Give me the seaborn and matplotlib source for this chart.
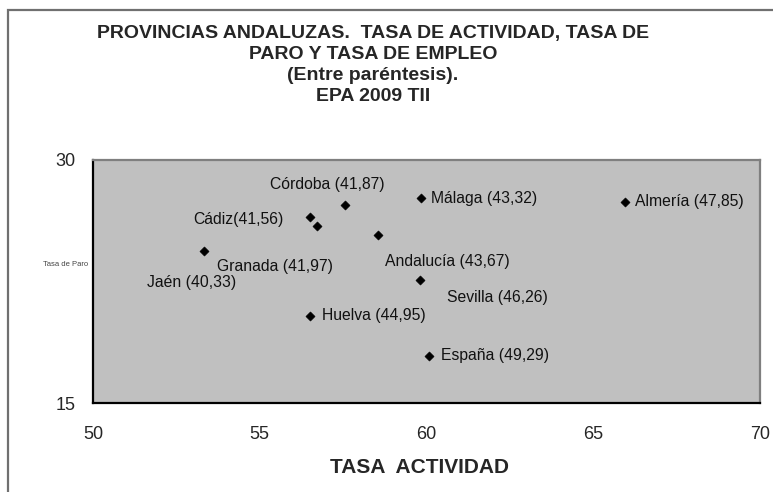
import matplotlib
matplotlib.use("Agg")
from matplotlib import pyplot as plt
from matplotlib.patches import Rectangle
import seaborn as sns
import pandas as pd

# datos EPA 2009 TII
provincias = ["Córdoba", "Málaga", "Almería", "Cádiz", "Granada",
              "Andalucía", "Jaén", "Sevilla", "Huelva", "España"]
tasa_actividad = [57.57, 59.84, 65.95, 56.50, 56.73, 58.55, 53.33, 59.80, 56.50, 60.06]
tasa_paro = [27.22, 27.64, 27.43, 26.46, 25.94, 25.39, 24.38, 22.60, 20.40, 17.92]
etiquetas = ["Córdoba (41,87)", "Málaga (43,32)", "Almería (47,85)", "Cádiz(41,56)",
             "Granada (41,97)", "Andalucía (43,67)", "Jaén (40,33)", "Sevilla (46,26)",
             "Huelva (44,95)", "España (49,29)"]

# label placement (pixel offsets from each point, ha)
offsets = [(-18, 21, "center"), (10, 0, "left"), (10, 0, "left"), (-26, -2, "right"),
           (-100, -41, "left"), (7, -27, "left"), (-57, -31, "left"), (27, -18, "left"),
           (12, 0, "left"), (12, 0, "left")]

df = pd.DataFrame({"provincia": provincias, "actividad": tasa_actividad, "paro": tasa_paro})

sns.set_style("white")
plt.rcParams["font.family"] = ["Liberation Sans", "DejaVu Sans"]

W, H = 773, 492
fig = plt.figure(figsize=(W / 100, H / 100), dpi=100)
ax = fig.add_axes([93 / W, 1 - 403 / H, (760 - 93) / W, (403 - 160) / H])
ax.set_facecolor("#c0c0c0")

sns.scatterplot(data=df, x="actividad", y="paro", marker="D", s=22,
                color="black", edgecolor="black", ax=ax, zorder=3)

for x, y, lab, (dx, dy, ha) in zip(tasa_actividad, tasa_paro, etiquetas, offsets):
    ax.annotate(lab, (x, y), xytext=(dx, dy), textcoords="offset pixels",
                ha=ha, va="center", fontsize=11.3, color="#111111")

ax.set_xlim(50, 70)
ax.set_ylim(15, 30)
ax.set_xticks([50, 55, 60, 65, 70])
ax.set_yticks([15, 30])
ax.tick_params(axis="both", direction="inout", length=9, width=1.3,
               labelsize=13, color="black", pad=8)
ax.tick_params(axis="x", pad=12)

for s in ["left", "bottom"]:
    ax.spines[s].set_color("black")
    ax.spines[s].set_linewidth(1.6)
for s in ["top", "right"]:
    ax.spines[s].set_color("#7f7f7f")
    ax.spines[s].set_linewidth(1.6)

ax.set_xlabel("TASA  ACTIVIDAD", fontsize=15, fontweight="bold")
ax.xaxis.set_label_coords((420 - 93) / (760 - 93), -0.225)
ax.set_ylabel("")
fig.text(66 / W, 1 - 264 / H, "Tasa de Paro", fontsize=5.5, ha="center", va="center",
         color="#444444")

fig.text(373 / W, 1 - 65 / H,
         "PROVINCIAS ANDALUZAS.  TASA DE ACTIVIDAD, TASA DE\nPARO Y TASA DE EMPLEO\n"
         "(Entre paréntesis).\nEPA 2009 TII",
         ha="center", va="center", fontsize=14, fontweight="bold",
         linespacing=1.33)

# marco exterior del gráfico
fig.patches.append(Rectangle((8 / W, -0.1), 1.2, 1.1 - 10 / H, transform=fig.transFigure,
                             fill=False, edgecolor="#707070", linewidth=1.6))

fig.savefig("out.png", dpi=100)
